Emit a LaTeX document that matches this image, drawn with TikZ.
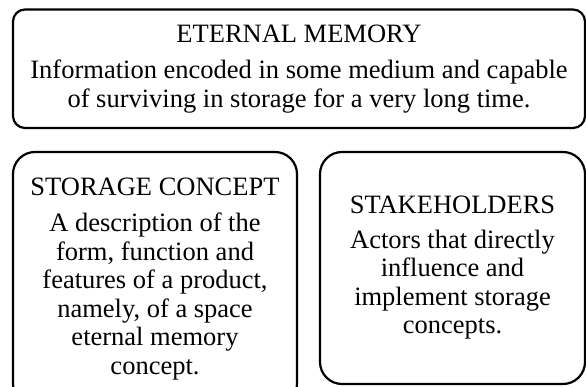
\documentclass[tikz,border=0pt]{standalone}
\usepackage{fontspec}
\setmainfont{Liberation Serif}
\begin{document}
\begin{tikzpicture}[x=1pt,y=1pt,
  box/.style={draw=black, line width=2.2pt, align=center, inner sep=0pt,
    font=\fontsize{26.5}{28.5}\selectfont},
  topbox/.style={box, rounded corners=12pt},
  lowbox/.style={box, rounded corners=22pt}]
\useasboundingbox (0,0) rectangle (586,-387);
\clip (0,0) rectangle (586,-387);
\node[topbox, minimum width=572pt, minimum height=118.5pt] (em) at (299,-68.75)
  {ETERNAL MEMORY\\[8pt]
   Information encoded in some medium and capable\\
   of surviving in storage for a very long time.};
\node[lowbox, minimum width=284pt, minimum height=254pt] (sc) at (155,-279)
  {STORAGE CONCEPT\\[8pt]
   A description of the\\
   form, function and\\
   features of a product,\\
   namely, of a space\\
   eternal memory\\
   concept.};
\node[lowbox, minimum width=265pt, minimum height=232pt] (sh) at (452.5,-268)
  {STAKEHOLDERS\\[6pt]
   Actors that directly\\
   influence and\\
   implement storage\\
   concepts.};
\end{tikzpicture}
\end{document}
